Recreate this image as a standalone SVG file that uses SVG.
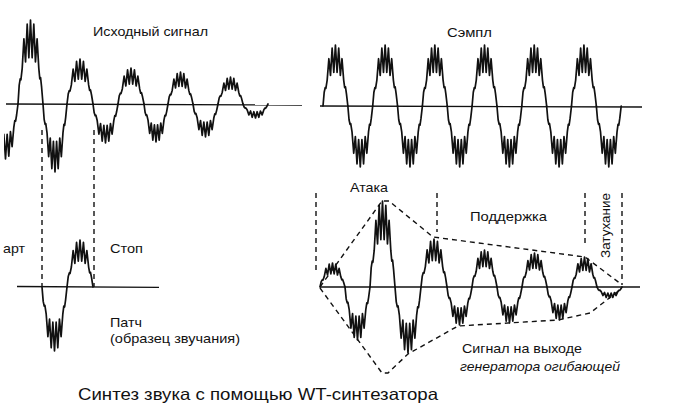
<svg xmlns="http://www.w3.org/2000/svg" xmlns:xlink="http://www.w3.org/1999/xlink" width="685" height="414" viewBox="0 0 685 414">
<style>
  .t { font-family: "Liberation Sans", Arial, sans-serif; font-size: 13.5px; fill: #111; }
  .cap { font-size: 16.5px; }
  .it { font-style: italic; }
  .axis { stroke: #111; stroke-width: 1.3; fill: none; }
  .wave use { stroke: #111; stroke-width: 1.7; fill: none; }
  .dash { stroke: #111; stroke-width: 1.4; fill: none; stroke-dasharray: 5 4; }
</style>
<defs>
  <path id="lobe" vector-effect="non-scaling-stroke" stroke-linejoin="round" stroke-linecap="round"
        d="M0,0 L1.2,-9 L2.2,-12 L2.9,-11.5 L4.2,-17 L5.9,-31 L7.55,-20 L9.2,-38 L10.85,-22 L12.5,-40 L14.15,-22 L15.8,-38 L17.45,-20 L19.1,-31 L20.8,-17 L21.8,-12 L22.6,-12.5 L23.6,-8 L25,0"/>
  <clipPath id="c1" clipPathUnits="userSpaceOnUse"><rect x="4" y="0" width="310" height="200"/></clipPath>
</defs>
<rect width="685" height="414" fill="#fff"/>

<g id="source-signal">
  <path class="axis" d="M6,104 L302,105"/>
  <g class="wave">
    <g clip-path="url(#c1)">
      <use xlink:href="#lobe" href="#lobe" transform="translate(-7,104) scale(1,-1.375)"/>
    </g>
    <use xlink:href="#lobe" href="#lobe" transform="translate(18,104) scale(1,2.1)"/>
    <use xlink:href="#lobe" href="#lobe" transform="translate(43,104) scale(0.96,-1.7)"/>
    <use xlink:href="#lobe" href="#lobe" transform="translate(67,104) scale(1.04,1.125)"/>
    <use xlink:href="#lobe" href="#lobe" transform="translate(93,104) scale(1,-0.975)"/>
    <use xlink:href="#lobe" href="#lobe" transform="translate(118,104) scale(1.04,0.9)"/>
    <use xlink:href="#lobe" href="#lobe" transform="translate(144,104) scale(0.96,-0.95)"/>
    <use xlink:href="#lobe" href="#lobe" transform="translate(168,104) scale(1,0.8)"/>
    <use xlink:href="#lobe" href="#lobe" transform="translate(193,104) scale(1,-0.825)"/>
    <use xlink:href="#lobe" href="#lobe" transform="translate(218,104) scale(1,0.675)"/>
    <use xlink:href="#lobe" href="#lobe" transform="translate(243,104) scale(1,-0.35)"/>
  </g>
  <text class="t" x="93" y="36" textLength="115" lengthAdjust="spacingAndGlyphs">Исходный сигнал</text>
</g>

<g id="patch">
  <path class="axis" d="M17,286.5 L159,287.3"/>
  <g class="wave">
    <use xlink:href="#lobe" href="#lobe" transform="translate(42,287) scale(1,-1.6)"/>
    <use xlink:href="#lobe" href="#lobe" transform="translate(67,287) scale(1.04,1.175)"/>
  </g>
  <text class="t" x="3" y="253" textLength="22" lengthAdjust="spacingAndGlyphs">арт</text>
  <text class="t" x="110" y="253" textLength="33" lengthAdjust="spacingAndGlyphs">Стоп</text>
  <text class="t" x="110" y="327" textLength="32" lengthAdjust="spacingAndGlyphs">Патч</text>
  <text class="t" x="110" y="343" textLength="130" lengthAdjust="spacingAndGlyphs">(образец звучания)</text>
</g>

<g id="sample">
  <path class="axis" d="M320,106 L642,107"/>
  <g class="wave">
    <use xlink:href="#lobe" href="#lobe" transform="translate(323,106) scale(0.994,1.525)"/>
    <use xlink:href="#lobe" href="#lobe" transform="translate(347.85,106) scale(0.994,-1.525)"/>
    <use xlink:href="#lobe" href="#lobe" transform="translate(372.7,106) scale(0.994,1.525)"/>
    <use xlink:href="#lobe" href="#lobe" transform="translate(397.55,106) scale(0.994,-1.525)"/>
    <use xlink:href="#lobe" href="#lobe" transform="translate(422.4,106) scale(0.994,1.525)"/>
    <use xlink:href="#lobe" href="#lobe" transform="translate(447.25,106) scale(0.994,-1.525)"/>
    <use xlink:href="#lobe" href="#lobe" transform="translate(472.1,106) scale(0.994,1.525)"/>
    <use xlink:href="#lobe" href="#lobe" transform="translate(496.95,106) scale(0.994,-1.525)"/>
    <use xlink:href="#lobe" href="#lobe" transform="translate(521.8,106) scale(0.994,1.525)"/>
    <use xlink:href="#lobe" href="#lobe" transform="translate(546.65,106) scale(0.994,-1.525)"/>
    <use xlink:href="#lobe" href="#lobe" transform="translate(571.5,106) scale(0.994,1.525)"/>
    <use xlink:href="#lobe" href="#lobe" transform="translate(596.35,106) scale(0.994,-1.525)"/>
  </g>
  <text class="t" x="447" y="37" textLength="45" lengthAdjust="spacingAndGlyphs">Сэмпл</text>
</g>

<g id="envelope-output">
  <path class="axis" d="M320,287 L640,287"/>
  <g class="wave">
    <use xlink:href="#lobe" href="#lobe" transform="translate(320,287) scale(1,0.6)"/>
    <use xlink:href="#lobe" href="#lobe" transform="translate(345,287) scale(1,-1.325)"/>
    <use xlink:href="#lobe" href="#lobe" transform="translate(370,287) scale(1,2.15)"/>
    <use xlink:href="#lobe" href="#lobe" transform="translate(395,287) scale(1.04,-1.65)"/>
    <use xlink:href="#lobe" href="#lobe" transform="translate(421,287) scale(1.04,1.2)"/>
    <use xlink:href="#lobe" href="#lobe" transform="translate(447,287) scale(1,-0.95)"/>
    <use xlink:href="#lobe" href="#lobe" transform="translate(472,287) scale(1,0.925)"/>
    <use xlink:href="#lobe" href="#lobe" transform="translate(497,287) scale(1,-0.9)"/>
    <use xlink:href="#lobe" href="#lobe" transform="translate(522,287) scale(1,0.85)"/>
    <use xlink:href="#lobe" href="#lobe" transform="translate(547,287) scale(1,-0.825)"/>
    <use xlink:href="#lobe" href="#lobe" transform="translate(572,287) scale(1,0.75)"/>
    <use xlink:href="#lobe" href="#lobe" transform="translate(597,287) scale(1,-0.275)"/>
  </g>
  <text class="t" x="350" y="192" textLength="38" lengthAdjust="spacingAndGlyphs">Атака</text>
  <text class="t" x="470" y="221" textLength="77" lengthAdjust="spacingAndGlyphs">Поддержка</text>
  <text class="t" transform="translate(610,258) rotate(-90)" x="0" y="0" textLength="65" lengthAdjust="spacingAndGlyphs">Затухание</text>
  <text class="t" x="462" y="353" textLength="120" lengthAdjust="spacingAndGlyphs">Сигнал на выходе</text>
  <text class="t it" x="460" y="371" textLength="160" lengthAdjust="spacingAndGlyphs">генератора огибающей</text>
</g>

<g id="connectors">
  <path class="dash" d="M42,130 L42,287"/>
  <path class="dash" d="M94,130 L94,287"/>
  <path class="dash" d="M316,193 L316,270"/>
  <path class="dash" d="M437,193 L437,232"/>
  <path class="dash" d="M585,193 L585,246"/>
  <path class="dash" d="M622,193 L622,285"/>
  <path class="dash" d="M320,287 L382,201 L389,201 L433,237 L585,257 L621,284"/>
  <path class="dash" d="M320,288 L382,373 L388,373 L408,354 L458,326 L558,320 L590,313 L621,289"/>
</g>

<text class="t cap" x="78" y="400" textLength="360" lengthAdjust="spacingAndGlyphs">Синтез звука с помощью WT-синтезатора</text>
</svg>
